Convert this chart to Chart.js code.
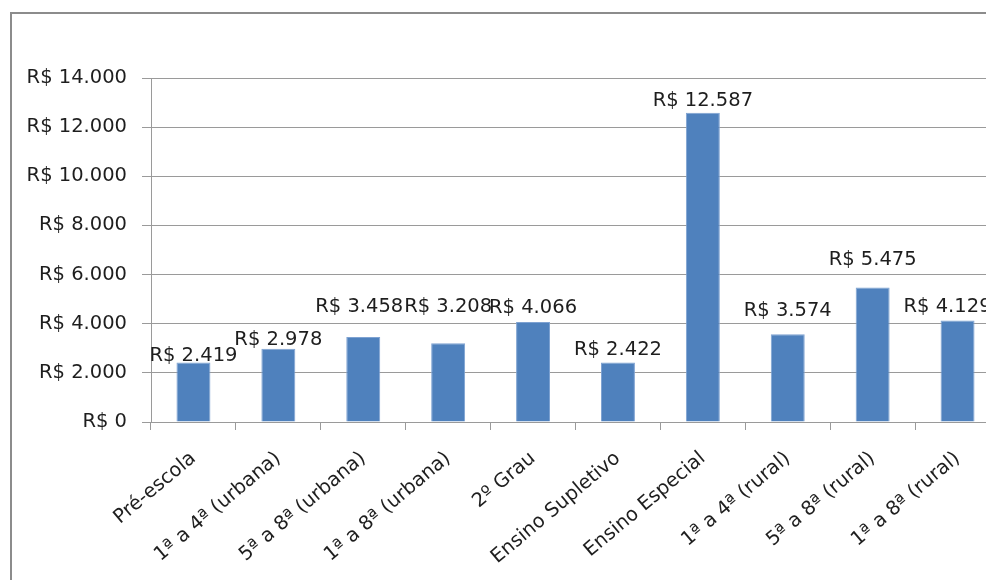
<!DOCTYPE html>
<html>
<head>
<meta charset="utf-8">
<script src="https://cdn.jsdelivr.net/npm/chart.js@4"></script>
<style>
  html, body { margin: 0; padding: 0; background: #fff; overflow: hidden; }
  #frame { position: absolute; left: 10px; top: 12px; width: 1100px; height: 700px; border: 2px solid #8c8c8c; }
  #wrap { position: absolute; left: 0; top: 0; width: 1005px; height: 580px; }
</style>
</head>
<body>
<div id="frame"></div>
<div id="wrap"><canvas id="chart"></canvas></div>
<script>
// categories and values
const categories = ["Pré-escola", "1ª a 4ª (urbana)", "5ª a 8ª (urbana)", "1ª a 8ª (urbana)", "2º Grau",
  "Ensino Supletivo", "Ensino Especial", "1ª a 4ª (rural)", "5ª a 8ª (rural)", "1ª a 8ª (rural)"];
const values = [2419, 2978, 3458, 3208, 4066, 2422, 12587, 3574, 5475, 4129];
const yTicks = [0, 2000, 4000, 6000, 8000, 10000, 12000, 14000];

// value labels were nudged by hand in the original: lift above bar top, sideways shift (px)
const labelLift = [2, 4, 25, 31, 9, 7, 7, 18, 22, 9];
const labelShift = [0, 0, -4, 0, 0, 0, 0, 0, 0, -10];

const FONT = "DejaVu Sans";

function fmt(v) {
  return "R$ " + String(v).replace(/\B(?=(\d{3})+(?!\d))/g, ".");
}

// draws the value above each bar
const valueLabels = {
  id: "valueLabels",
  afterDatasetsDraw(chart) {
    const ctx = chart.ctx;
    const meta = chart.getDatasetMeta(0);
    ctx.save();
    ctx.font = "19.5px '" + FONT + "'";
    ctx.fillStyle = "#1e1e1e";
    ctx.textAlign = "center";
    ctx.textBaseline = "alphabetic";
    meta.data.forEach((bar, i) => {
      ctx.fillText(fmt(values[i]), bar.x + labelShift[i], bar.y - labelLift[i]);
    });
    ctx.restore();
  }
};

new Chart(document.getElementById("chart"), {
  type: "bar",
  data: {
    labels: categories,
    datasets: [{
      data: values,
      backgroundColor: "#4f81bd",
      borderColor: "#7ea2d2",
      borderWidth: 1,
      categoryPercentage: 1,
      barPercentage: 0.4
    }]
  },
  options: {
    responsive: true,
    maintainAspectRatio: false,
    animation: false,
    layout: { padding: { top: 78, left: 0, right: 5, bottom: 0 } },
    plugins: {
      legend: { display: false },
      tooltip: { enabled: false }
    },
    scales: {
      y: {
        min: 0,
        max: 14000,
        afterBuildTicks: (scale) => { scale.ticks = yTicks.map(v => ({ value: v })); },
        afterFit: (scale) => { scale.width = 151; },
        ticks: {
          color: "#1e1e1e",
          padding: 15,
          font: { family: FONT, size: 19.5 },
          callback: (v) => fmt(v)
        },
        grid: { color: "#9a9a9a", lineWidth: 1, tickLength: 9 },
        border: { color: "#9a9a9a" }
      },
      x: {
        afterFit: (scale) => { scale.height = 158; },
        ticks: {
          color: "#1e1e1e",
          minRotation: 40,
          maxRotation: 40,
          padding: 17,
          autoSkip: false,
          font: { family: FONT, size: 19.5 }
        },
        grid: { drawOnChartArea: false, color: "#9a9a9a", tickLength: 8, offset: true },
        border: { color: "#9a9a9a" }
      }
    }
  },
  plugins: [valueLabels]
});
</script>
</body>
</html>
